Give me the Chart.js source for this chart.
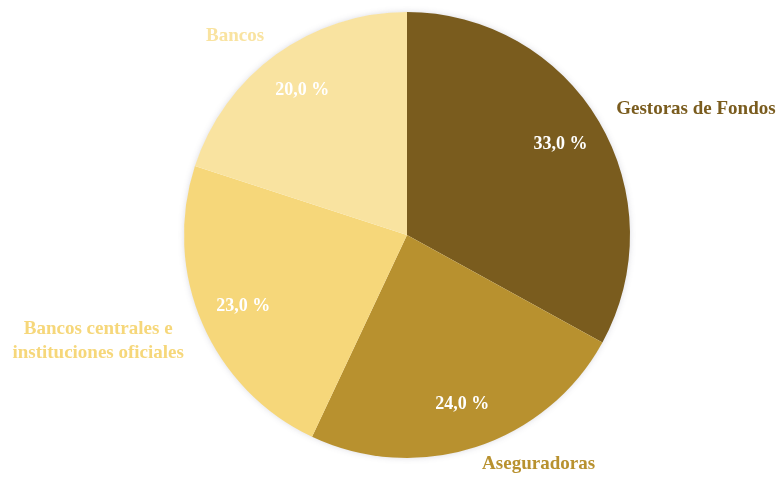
<!DOCTYPE html>
<html>
<head>
<meta charset="utf-8">
<script src="https://cdn.jsdelivr.net/npm/chart.js@4/dist/chart.umd.min.js"></script>
<style>
  html, body { margin: 0; padding: 0; background: #fff; }
  #pie { display: block; }
</style>
</head>
<body>
<canvas id="pie" width="779" height="479"></canvas>
<script>
const categories = [
    ["Gestoras de Fondos"],
    ["Aseguradoras"],
    ["Bancos centrales e", "instituciones oficiales"],
    ["Bancos"]
];
const shares = [33.0, 24.0, 23.0, 20.0];
const sliceColors = ['#7a5c1e', '#b8912f', '#f6d77a', '#f9e3a0'];

const serif = '"Liberation Serif", "Times New Roman", serif';

// soft halo behind the pie
const pieShadow = {
    id: 'pieShadow',
    beforeDatasetsDraw(chart) {
        const arc = chart.getDatasetMeta(0).data[0];
        if (!arc) return;
        const ctx = chart.ctx;
        ctx.save();
        ctx.shadowColor = 'rgba(90, 90, 120, 0.25)';
        ctx.shadowBlur = 6;
        ctx.fillStyle = '#ffffff';
        ctx.beginPath();
        ctx.arc(arc.x, arc.y, arc.outerRadius - 0.5, 0, Math.PI * 2);
        ctx.fill();
        ctx.restore();
    }
};

// percentage inside each slice, category name just outside
const sliceLabels = {
    id: 'sliceLabels',
    afterDatasetsDraw(chart) {
        const ctx = chart.ctx;
        const meta = chart.getDatasetMeta(0);
        ctx.save();
        meta.data.forEach((arc, i) => {
            const mid = (arc.startAngle + arc.endAngle) / 2;
            const r = arc.outerRadius;
            const cos = Math.cos(mid), sin = Math.sin(mid);

            ctx.font = 'bold 18px ' + serif;
            ctx.fillStyle = '#ffffff';
            ctx.textAlign = 'center';
            ctx.textBaseline = 'middle';
            const txt = shares[i].toFixed(1).replace('.', ',') + ' %';
            ctx.fillText(txt, arc.x + cos * r * 0.8, arc.y + sin * r * 0.8);

            const lines = categories[i];
            const px = arc.x + cos * r * 1.09;
            const py = arc.y + sin * r * 1.09;
            ctx.font = 'bold 19px ' + serif;
            ctx.fillStyle = sliceColors[i];
            const widths = lines.map(l => ctx.measureText(l).width);
            const blockW = Math.max(...widths);
            const lh = 24;
            const left = cos >= 0 ? px : px - blockW;
            lines.forEach((l, k) => {
                ctx.fillText(l, left + blockW / 2, py + k * lh - 2);
            });
        });
        ctx.restore();
    }
};

new Chart(document.getElementById('pie').getContext('2d'), {
    type: 'pie',
    data: {
        labels: categories.map(c => c.join(' ')),
        datasets: [{
            data: shares,
            backgroundColor: sliceColors,
            borderWidth: 0
        }]
    },
    options: {
        responsive: false,
        animation: false,
        layout: { padding: { top: 12, bottom: 21, left: 184, right: 149 } },
        plugins: {
            legend: { display: false },
            tooltip: { enabled: false }
        }
    },
    plugins: [pieShadow, sliceLabels]
});
</script>
</body>
</html>
